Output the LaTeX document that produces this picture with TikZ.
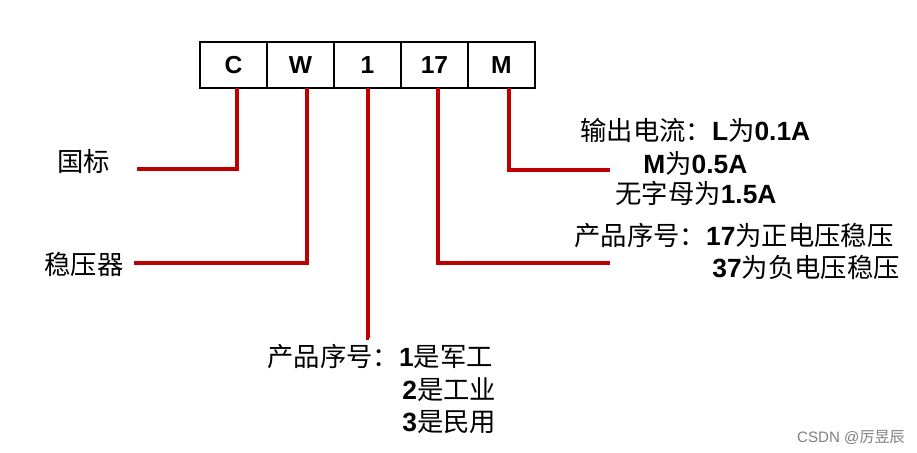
\documentclass[tikz,border=0pt]{standalone}
\usepackage{fontspec}
\setmainfont{Liberation Sans}
\newfontfamily\cjk{Noto Sans CJK SC}
\usepackage{xcolor}
\usetikzlibrary{positioning}
\definecolor{codered}{HTML}{C00000}
\newcommand\zh[1]{{\cjk\mdseries #1}}

\begin{document}
\begin{tikzpicture}[x=0.02cm, y=-0.02cm,
    cell/.style={draw, line width=0.7pt, minimum width=1.34cm, minimum height=0.92cm,
                 inner sep=0pt, outer sep=0pt, font=\fontsize{14}{16}\selectfont\bfseries},
    lbl/.style={anchor=west, inner sep=0pt, font=\fontsize{15}{18}\selectfont},
    lead/.style={draw=codered, line width=2.3pt}]
  \useasboundingbox (0,0) rectangle (917,453);
  % the code boxes
  \node[cell, anchor=north west] (c) at (200,42) {C};
  \node[cell, right=0pt of c] (w) {W};
  \node[cell, right=0pt of w] (n1) {1};
  \node[cell, right=0pt of n1] (s17) {17};
  \node[cell, right=0pt of s17] (m) {M};
  % labels
  \node[lbl] (gb) at (57,161) {\zh{国标}};
  \node[lbl] (wyq) at (44,264) {\zh{稳压器}};
  \node[lbl] (io1) at (580,130) {\zh{输出电流：}\textbf{L}\zh{为}\textbf{0.1A}};
  \node[lbl] (io2) at (643,163) {\textbf{M}\zh{为}\textbf{0.5A}};
  \node[lbl] (io3) at (615,193) {\zh{无字母为}\textbf{1.5A}};
  \node[lbl] (pv1) at (574,236) {\zh{产品序号：}\textbf{17}\zh{为正电压稳压}};
  \node[lbl] (pv2) at (712,267) {\textbf{37}\zh{为负电压稳压}};
  \node[lbl] (gr1) at (267,357) {\zh{产品序号：}\textbf{1}\zh{是军工}};
  \node[lbl] (gr2) at (402,390) {\textbf{2}\zh{是工业}};
  \node[lbl] (gr3) at (402,422) {\textbf{3}\zh{是民用}};
  \node[font=\fontsize{8.6}{10}\selectfont, text=gray] (mark) at (851,437) {CSDN @\zh{厉昱辰}};
  % free ends of the leads
  \coordinate (e1) at (137,169);
  \coordinate (e2) at (134,263);
  \coordinate (e3) at (368,338);
  \coordinate (e4) at (610,263);
  \coordinate (e5) at (610,170);
  \foreach \n/\dx/\e in {c/0.07/e1, w/0.13/e2, n1/0.01/e3, s17/0.07/e4, m/0.15/e5}
    \draw[lead] ([xshift=\dx cm]\n.south) |- (\e);
\end{tikzpicture}
\end{document}
